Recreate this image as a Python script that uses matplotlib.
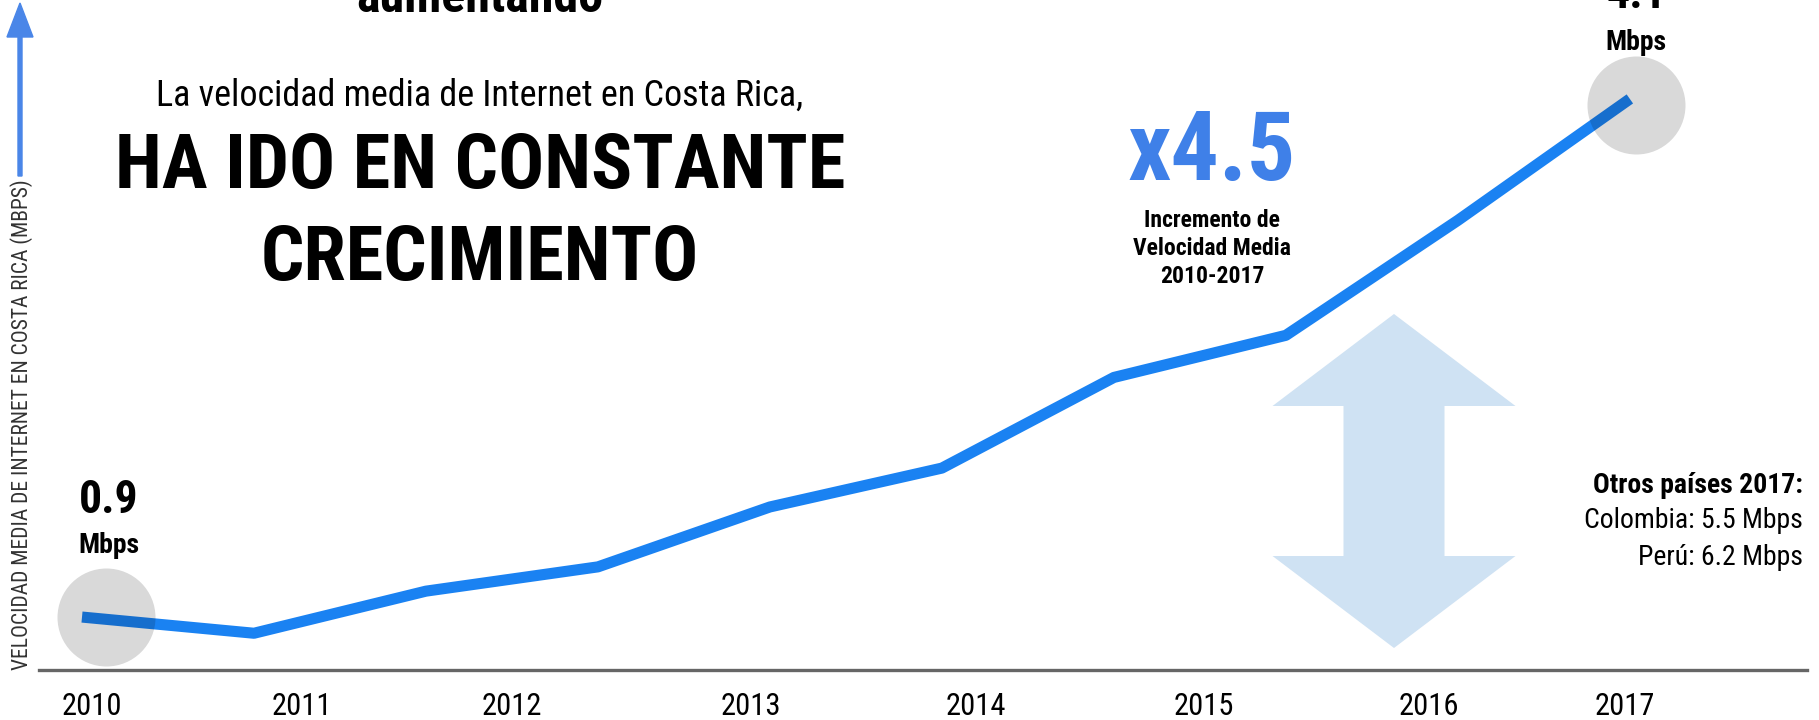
import matplotlib
matplotlib.use("Agg")
import matplotlib.pyplot as plt
from matplotlib import font_manager, transforms
from matplotlib.patches import FancyArrow

# Data (Mbps, Costa Rica average connection speed)
point_index = [0, 1, 2, 3, 4, 5, 6, 7, 8, 9]
speed_mbps = [0.90, 0.80, 1.06, 1.21, 1.58, 1.82, 2.38, 2.64, 3.35, 4.10]
year_labels = ["2010", "2011", "2012", "2013", "2014", "2015", "2016", "2017"]
year_positions = [0.06, 1.28, 2.50, 3.89, 5.20, 6.52, 7.83, 8.97]
increase_label = "x4.5"
others = ["Colombia: 5.5 Mbps", "Perú: 6.2 Mbps"]

W, H = 1819, 720

installed = {f.name for f in font_manager.fontManager.ttflist}
COND = next((n for n in ["Roboto Condensed", "Liberation Sans Narrow", "Open Sans Condensed"]
             if n in installed), "Roboto")
FAM = [COND, "DejaVu Sans"]

fig = plt.figure(figsize=(W / 100, H / 100), dpi=100)
ax = fig.add_axes([39 / W, 50 / H, (1807 - 39) / W, (H - 50) / H])
ax.set_xlim(-0.25, 10.03)
ax.set_ylim(0.573, 4.711)
ax.axis("off")

ax.plot(point_index, speed_mbps, color="#1a82f2", lw=8, solid_capstyle="butt", zorder=2)

# grey highlight circles on first and last point
off_first = transforms.offset_copy(ax.transData, fig=fig, x=24 * 0.72, y=0, units="points")
off_last = transforms.offset_copy(ax.transData, fig=fig, x=6 * 0.72, y=-6 * 0.72, units="points")
ax.scatter([point_index[0]], [speed_mbps[0]], s=4980, color="black", alpha=0.15,
           lw=0, zorder=3, transform=off_first)
ax.scatter([point_index[-1]], [speed_mbps[-1]], s=4980, color="black", alpha=0.15,
           lw=0, zorder=3, transform=off_last)

# baseline
ax.axhline(ax.get_ylim()[0], color="#666666", lw=2.4, clip_on=False)


def px(x, y):
    return x / W, 1 - y / H


def ftext(x, y, s, size, weight="normal", ha="center", color="black"):
    fig.text(*px(x, y), s, fontsize=size, fontweight=weight, ha=ha, va="baseline",
             color=color, family=FAM)


# year labels: x in data units, y in figure units
xform = transforms.blended_transform_factory(ax.transData, fig.transFigure)
for pos, lab in zip(year_positions, year_labels):
    ax.text(pos, 1 - 715 / H, lab, transform=xform, fontsize=22, ha="center",
            va="baseline", family=FAM)

# titles
ftext(480, 12, "aumentando", 36, "bold")
ftext(480, 106, "La velocidad media de Internet en Costa Rica,", 26)
ftext(480, 188, "HA IDO EN CONSTANTE", 55, "bold")
ftext(480, 280, "CRECIMIENTO", 55, "bold")

# value labels
ftext(109, 513, f"{speed_mbps[0]:.1f}", 33, "bold")
ftext(109, 553, "Mbps", 20, "bold")
ftext(1636, 8, f"{speed_mbps[-1]:.1f}", 33, "bold")
ftext(1636, 50, "Mbps", 20, "bold")

ftext(1212, 180, increase_label, 69, "bold", color="#3f80e8")
for i, line in enumerate(["Incremento de", "Velocidad Media", "2010-2017"]):
    ftext(1212, 227 + 28 * i, line, 17, "bold")

ftext(1803, 493, "Otros países 2017:", 20, "bold", ha="right")
for i, line in enumerate(others):
    ftext(1803, 528 + 37 * i, line, 20, ha="right")

# y axis arrow + label
fig.add_artist(FancyArrow(20, H - 176, 0, 173, width=4, head_width=26, head_length=34,
                          length_includes_head=True, color="#4a86e8", transform=None))
fig.text(*px(22, 425), "VELOCIDAD MEDIA DE INTERNET EN COSTA RICA (MBPS)", rotation=90,
         fontsize=15.5, ha="center", va="center", color="#333333", family=FAM)

# big double arrow
for d in (1, -1):
    fig.add_artist(FancyArrow(1394, H - 481, 0, d * 167, width=101, head_width=243,
                              head_length=92, length_includes_head=True, color="#cfe2f3",
                              lw=0, transform=None, zorder=0))

fig.savefig("out.png", dpi=100)
